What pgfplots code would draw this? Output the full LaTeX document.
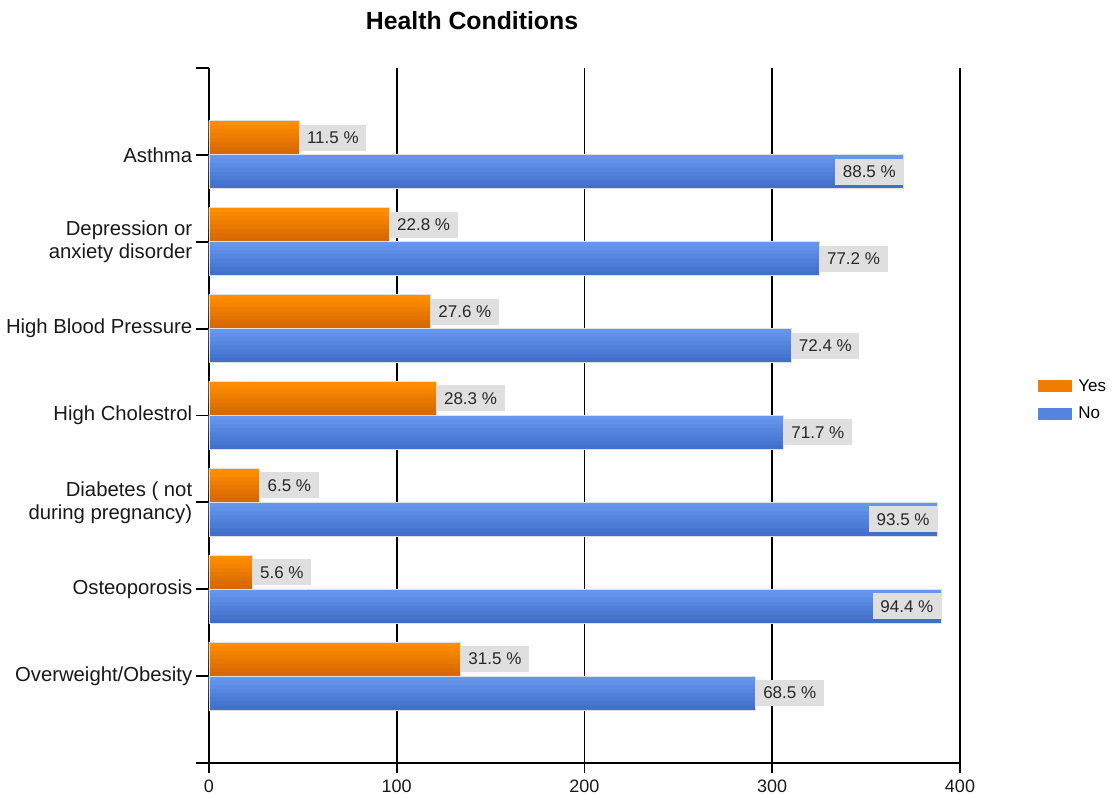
\documentclass[border=0pt]{standalone}
\usepackage{pgfplots}
\pgfplotsset{compat=1.18}
\usepackage{pgfplotstable}
\usepackage{fontspec}
\setmainfont{Liberation Sans}
\definecolor{orTop}{RGB}{255,142,0}
\definecolor{orBot}{RGB}{216,104,0}
\definecolor{orMid}{RGB}{240,125,0}
\definecolor{blTop}{RGB}{102,150,236}
\definecolor{blBot}{RGB}{64,112,204}
\definecolor{blMid}{RGB}{84,132,222}
\definecolor{lblfill}{RGB}{223,223,223}
\definecolor{lbltext}{RGB}{40,40,40}

\pgfplotstableread{
y val lab
7 48 11.5
6 96 22.8
5 118 27.6
4 121 28.3
3 27 6.5
2 23 5.6
1 134 31.5
}\yesdata
\pgfplotstableread{
y val lab
7 370 88.5
6 325 77.2
5 310 72.4
4 306 71.7
3 388 93.5
2 390 94.4
1 291 68.5
}\nodata
\pgfplotstableread{
y val lab
6 325 77.2
5 310 72.4
4 306 71.7
1 291 68.5
}\nodataout
\pgfplotstableread{
y val lab
7 370 88.5
3 388 93.5
2 390 94.4
}\nodatain

\tikzset{
  lbl/.style={fill=lblfill, text=lbltext, font=\fontsize{17}{19}\selectfont, inner xsep=7.5pt, inner ysep=0pt, minimum height=26pt},
}
% one horizontal band of a bar: table, band height, bar shift, colour
\newcommand{\barlayer}[4]{%
  \addplot[forget plot, xbar, bar width=#2pt, bar shift=#3pt, fill=#4, draw=none] table[x=val, y=y] {#1};
}

\begin{document}
\begin{tikzpicture}
\useasboundingbox (0pt,0pt) rectangle (1112pt,794pt);
\begin{axis}[
  at={(209pt,31pt)}, anchor=south west,
  scale only axis, width=751pt, height=695pt,
  xmin=0, xmax=400, ymin=0, ymax=8,
  xtick={0,100,200,300,400},
  ytick={0,1,2,3,4,5,6,7,8},
  yticklabels={{},Overweight/Obesity,Osteoporosis,{Diabetes ( not\\during pregnancy)},High Cholestrol,High Blood Pressure,{Depression or\\anxiety disorder},Asthma,{}},
  axis x line*=bottom, axis y line*=left,
  axis line style={line width=1.8pt, black, -},
  xmajorgrids, major grid style={line width=1.8pt, black},
  tick align=outside,
  tick style={line width=1.8pt, black},
  xtick style={/pgfplots/major tick length=10pt},
  ytick style={/pgfplots/major tick length=13pt},
  /pgf/number format/assume math mode=true,
  xticklabel style={font=\fontsize{18}{20}\selectfont, text=black!90, yshift=-9pt},
  yticklabel style={font=\fontsize{20.3}{23}\selectfont, align=right, text=black!90, xshift=-9pt},
  title={\textbf{Health Conditions}},
  title style={at={(axis description cs:0.3502,1.047)}, anchor=base, font=\fontsize{24.8}{26}\selectfont},
  legend style={draw=none, fill=none, at={(axis description cs:1.104,0.555)}, anchor=north west, inner sep=0pt, font=\fontsize{17}{19}\selectfont, row sep=10.5pt,
    /tikz/every odd column/.append style={column sep=4pt}},
  legend cell align=left,
]
% Yes: base band (legend entry) + lighter bands towards the top
\addplot[xbar, bar width=34pt, bar shift=17pt, fill=orBot, draw=none,
  legend image code/.code={\fill[orMid] (0pt,-6pt) rectangle (34pt,6pt);}]
  table[x=val, y=y] {\yesdata};
\addlegendentry{Yes}
\barlayer{\yesdata}{29.75}{19.125}{orTop!14!orBot}
\barlayer{\yesdata}{25.5}{21.25}{orTop!29!orBot}
\barlayer{\yesdata}{21.25}{23.375}{orTop!43!orBot}
\barlayer{\yesdata}{17}{25.5}{orTop!57!orBot}
\barlayer{\yesdata}{12.75}{27.625}{orTop!71!orBot}
\barlayer{\yesdata}{8.5}{29.75}{orTop!86!orBot}
\barlayer{\yesdata}{4.25}{31.875}{orTop}
% No
\addplot[xbar, bar width=34pt, bar shift=-17pt, fill=blBot, draw=none,
  legend image code/.code={\fill[blMid] (0pt,-6pt) rectangle (34pt,6pt);}]
  table[x=val, y=y] {\nodata};
\addlegendentry{No}
\barlayer{\nodata}{29.75}{-14.875}{blTop!14!blBot}
\barlayer{\nodata}{25.5}{-12.75}{blTop!29!blBot}
\barlayer{\nodata}{21.25}{-10.625}{blTop!43!blBot}
\barlayer{\nodata}{17}{-8.5}{blTop!57!blBot}
\barlayer{\nodata}{12.75}{-6.375}{blTop!71!blBot}
\barlayer{\nodata}{8.5}{-4.25}{blTop!86!blBot}
\barlayer{\nodata}{4.25}{-2.125}{blTop}
% outlines and value labels
\addplot[forget plot, xbar, bar width=34pt, bar shift=17pt, fill=none, draw=black!12, line width=0.8pt,
  point meta=explicit symbolic, nodes near coords={\pgfplotspointmeta\ \%},
  every node near coord/.append style={lbl, anchor=west, yshift=17pt}]
  table[x=val, y=y, meta=lab] {\yesdata};
\addplot[forget plot, xbar, bar width=34pt, bar shift=-17pt, fill=none, draw=black!12, line width=0.8pt,
  point meta=explicit symbolic, nodes near coords={\pgfplotspointmeta\ \%},
  every node near coord/.append style={lbl, anchor=west, yshift=-17pt}]
  table[x=val, y=y, meta=lab] {\nodataout};
\addplot[forget plot, xbar, bar width=34pt, bar shift=-17pt, fill=none, draw=black!12, line width=0.8pt,
  point meta=explicit symbolic, nodes near coords={\pgfplotspointmeta\ \%},
  every node near coord/.append style={lbl, anchor=east, yshift=-17pt}]
  table[x=val, y=y, meta=lab] {\nodatain};
\end{axis}
\end{tikzpicture}
\end{document}
